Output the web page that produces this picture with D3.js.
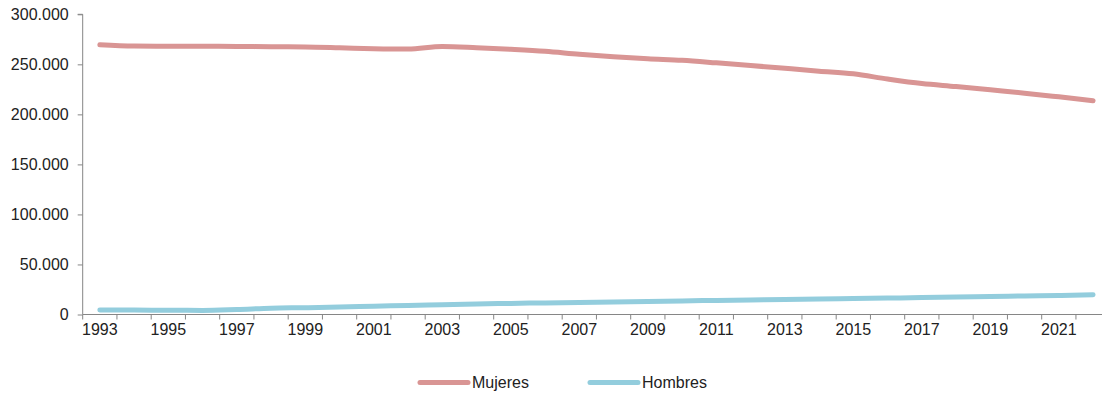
<!DOCTYPE html>
<html>
<head>
<meta charset="utf-8">
<script src="https://cdn.jsdelivr.net/npm/d3@7"></script>
<style>
  html, body { margin: 0; padding: 0; background: #fff; }
  svg { display: block; font-family: "Liberation Sans", Arial, sans-serif; }
</style>
</head>
<body>
<svg id="chart" width="1102" height="394"></svg>
<script>
const years = d3.range(1993, 2023);
const mujeres = [269500, 268200, 268000, 268000, 267900, 267500, 267400, 266600, 265600, 265200,
                 267800, 266600, 265000, 263000, 260000, 257500, 255500, 254000, 251500, 248800,
                 246000, 243200, 240500, 235300, 230800, 227800, 224500, 221200, 217500, 213700];
const hombres = [4500, 4400, 4200, 4100, 5000, 6300, 6800, 7500, 8300, 9000,
                 9800, 10500, 11100, 11600, 12100, 12600, 13100, 13600, 14100, 14500,
                 15000, 15500, 16000, 16400, 16900, 17500, 18000, 18500, 19000, 19700];
const yTicks = [0, 50000, 100000, 150000, 200000, 250000, 300000];
const seriesNames = ["Mujeres", "Hombres"];
const colors = ["#d99594", "#93cddd"];

const svg = d3.select("#chart");
const left = 82.7, band = 34.25;
const x = d3.scaleBand().domain(years).range([left, left + band * years.length]).padding(0);
const y = d3.scaleLinear().domain([0, 300000]).range([314.5, 14.3]);
const axisColor = "#868686";
const fmt = v => d3.format(",")(v).replace(/,/g, ".");
const fs = "16px";

// Y axis
const gy = svg.append("g").attr("transform", `translate(${left},0)`)
  .call(d3.axisLeft(y).tickValues(yTicks).tickSize(5).tickPadding(9).tickFormat(fmt));
gy.select(".domain").attr("stroke", axisColor).attr("d", `M-5,${y(300000)}H0V${y(0)}`);
gy.selectAll(".tick line").attr("stroke", axisColor);
gy.selectAll(".tick text").attr("fill", "#222").style("font-size", fs)
  .style("font-family", '"Liberation Sans", Arial, sans-serif');

// X axis
const gx = svg.append("g").attr("transform", `translate(0,${y(0)})`)
  .call(d3.axisBottom(x).tickSize(0).tickPadding(9)
    .tickFormat(d => (d % 2 === 1 ? d : "")));
gx.select(".domain").attr("stroke", axisColor).attr("d", `M${left},0H1102`);
gx.selectAll(".tick text").attr("fill", "#222").style("font-size", fs)
  .style("font-family", '"Liberation Sans", Arial, sans-serif');
gx.selectAll(".bnd").data(years).enter().append("line")
  .attr("x1", d => x(d)).attr("x2", d => x(d)).attr("y1", 0).attr("y2", 5)
  .attr("stroke", axisColor);

// Lines
const line = d3.line().x((d, i) => x(years[i]) + x.bandwidth() / 2).y(d => y(d))
  .curve(d3.curveMonotoneX);
[mujeres, hombres].forEach((s, k) => {
  svg.append("path").datum(s).attr("d", line).attr("fill", "none")
    .attr("stroke", colors[k]).attr("stroke-width", 5).attr("stroke-linecap", "round");
});

// Legend
const legX = [420, 590];
seriesNames.forEach((n, k) => {
  svg.append("line").attr("x1", legX[k]).attr("x2", legX[k] + 48)
    .attr("y1", 382.5).attr("y2", 382.5).attr("stroke", colors[k])
    .attr("stroke-width", 5).attr("stroke-linecap", "round");
  svg.append("text").attr("x", legX[k] + 52).attr("y", 388).text(n)
    .attr("fill", "#222").style("font-size", fs);
});
</script>
</body>
</html>
